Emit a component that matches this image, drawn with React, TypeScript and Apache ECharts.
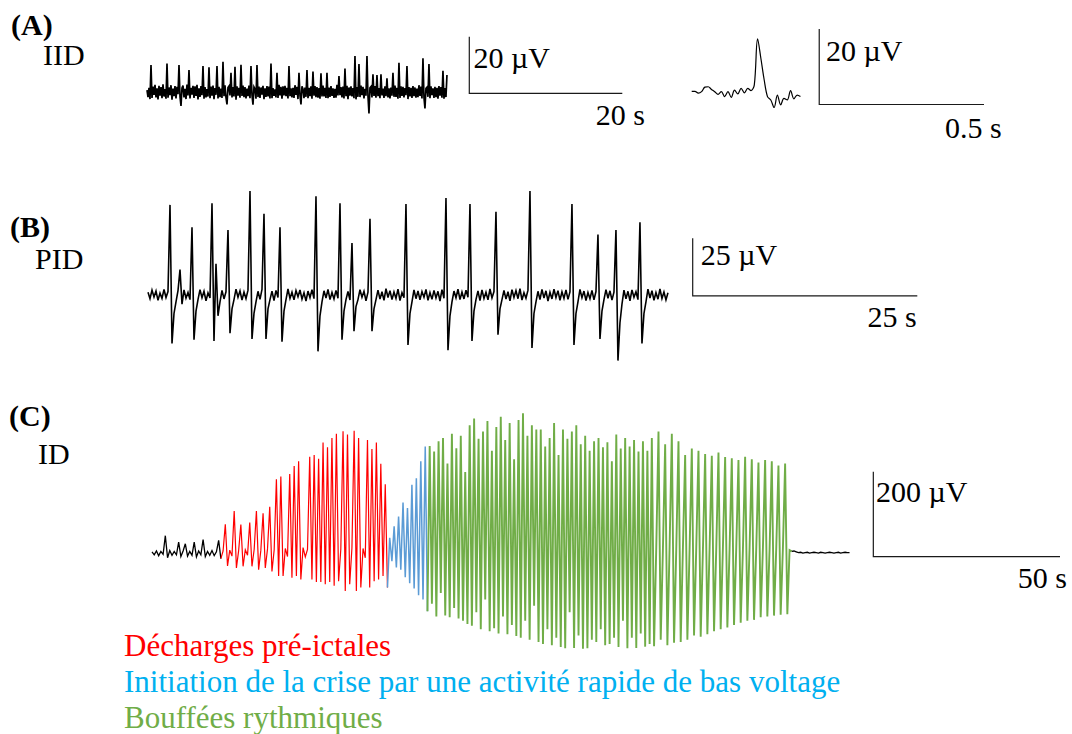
import React, { useEffect, useRef } from "react";
import * as echarts from "echarts";

// ---------- DATA ----------
// (A) IID: long trace, sampling period (s) and values (µV)
const iidDt = 0.1307;
const iidTrace = [
  0.6, -1.9, 1.4, -2.6, 9.4, -2.2, 1.8, -1.1, 2.4, -2.0, 1.2, -2.7, 2.1, -1.4, 1.6, -2.3, 2.6, -1.7, 0.9, -2.5,
  10.0, -2.1, 1.5, -1.2, 2.3, -2.8, 1.1, -1.6, 2.0, -2.4, 1.7, -0.9, 9.4, -1.8, -5.0, 1.3, 2.2, -2.0, 1.0, -2.6,
  2.5, -1.3, 7.7, -2.4, 1.4, -1.0, 2.1, -2.2, 1.9, -1.5, 2.4, -2.7, 1.2, -1.8, 2.0, -1.2, 9.1, -2.5, 1.6, -2.0,
  0.9, -1.7, 8.6, -2.3, 1.8, -1.4, 2.2, -2.6, 1.3, -1.1, 9.1, -2.4, 1.7, -1.9, 1.1, -2.2, 10.6, -1.6, 2.3, -2.1,
  -4.5, 1.5, 2.0, -1.3, 6.7, -2.0, 1.6, -1.7, 8.8, -2.8, 1.9, -1.4, 1.4, -2.1, 9.5, -1.5, 2.2, -1.9, 1.6, -2.4,
  1.1, -1.6, 2.2, -2.3, 9.1, -1.2, -4.6, 1.7, 1.0, -2.5, 9.4, -1.9, 1.8, -2.2, 1.5, -1.0, 2.1, -2.6, 1.2, -1.8,
  2.0, -1.7, 1.8, -2.4, 10.0, -2.3, 1.3, -1.5, 0.8, -2.0, 6.7, -2.2, 2.4, -1.3, 1.7, -2.5, 1.9, -1.3, 2.1, -1.6,
  1.4, -2.4, 9.1, -1.6, 1.2, -2.0, 1.4, -2.2, 2.3, -1.1, 1.7, -2.6, 6.7, -1.4, -4.5, 1.9, 1.0, -2.3, 1.5, -1.8,
  7.7, -2.3, 1.4, -1.6, 1.9, -2.5, 7.1, -1.4, 2.0, -1.9, 1.6, -2.1, 1.3, -2.5, 6.5, -1.7, 2.2, -1.7, 1.4, -2.2,
  6.7, -2.3, 1.5, -1.8, 2.0, -1.5, 1.2, -2.2, 1.0, -2.1, 2.4, -1.3, 5.5, -1.2, 1.6, -2.0, 1.8, -2.4, 8.2, -1.6,
  2.1, -2.6, 1.5, -1.4, 1.9, -1.7, 1.3, -2.3, 12.6, -2.7, 1.6, -1.8, 9.8, -1.9, 2.2, -1.2, 1.7, -2.4, 1.0, -1.4,
  12.6, -1.5, -7.7, 1.4, 1.8, -2.0, 6.2, -1.5, 2.0, -2.1, 5.9, -1.6, 1.3, -2.3, 6.2, -1.3, 1.1, -2.2, 1.9, -1.6,
  4.7, -2.0, 1.2, -2.4, 1.5, -1.4, 6.7, -1.8, 2.2, -1.8, 1.4, -2.5, 10.2, -2.2, 1.9, -1.5, 1.7, -2.0, 1.3, -1.2,
  9.1, -2.6, 1.6, -1.7, 1.4, -2.2, 2.0, -1.6, 1.5, -2.1, 1.1, -1.9, 2.3, -1.5, 1.8, -2.4, 11.8, -2.0, -5.9, 1.2,
  1.6, -1.8, 9.8, -2.3, 1.9, -1.2, 1.2, -2.2, 1.7, -1.9, 1.4, -2.5, 2.0, -1.4, 1.6, -2.1, 7.4, -2.5, 1.3, -1.9,
  5.9,
];
// (A) single IID, zoomed
const iidSpikeDt = 0.01;
const iidSpike = [
  0.1, 0.1, -0.4, 0.0, 1.2, 1.3, 0.6, 0.0, -0.7, 0.0,
  -1.3, 0.0, -1.5, 0.4, -0.6, 0.9, -0.3, 0.9, 0.3, 1.8,
  14.0, 8.8, 3.1, -1.3, -2.2, -4.2, -0.9, -3.5, -1.8, -2.2,
  0.3, -1.9, -0.9, -1.3,
];
// (B) PID
const pidDt = 0.2226;
const pidTrace = [
  1.2, -1.6, 2.1, -0.9, 1.7, -2.3, 0.8, -1.5, 2.4, -1.1,
  1.5, 39.0, -21.0, -8.0, -3.0, 1.9, 11.0, -4.0, 2.2, -1.4,
  1.1, -2.0, 29.3, -19.4, -7.0, -2.0, 2.3, -1.2, 1.6, -2.5,
  0.9, -1.3, 39.7, -19.9, 13.5, -9.0, -3.0, 2.0, -1.7, 1.4,
  28.1, -16.5, -6.0, -2.0, 2.5, -1.0, 1.8, -2.2, 1.3, -1.6,
  2.1, 45.0, -19.0, -8.0, -3.0, 1.6, -1.9, 2.4, 35.2, -19.0,
  -6.0, -2.0, 1.7, -2.4, 2.0, -1.1, 29.3, -20.2, -7.0, -2.0,
  2.6, -1.5, 1.2, -2.1, 1.9, -0.8, 2.2, -1.8, 1.0, -2.6,
  1.7, -1.2, 2.3, -1.6, 42.7, -24.4, -9.0, -3.0, 1.8, -1.3,
  2.4, -2.0, 1.1, -1.7, 2.0, -1.4, 39.7, -19.4, -7.0, -2.0,
  1.5, -2.2, 22.5, -15.7, -5.0, -2.0, 2.3, -1.0, 1.6, -2.5,
  1.2, 33.0, -15.7, -6.0, -2.0, 2.1, -1.8, 1.4, -2.3, 2.7,
  -1.1, 1.9, -2.0, 1.3, -1.5, 2.5, -2.4, 1.0, -1.2, 39.4,
  -21.6, -8.0, -3.0, 2.2, -1.6, 1.8, -2.1, 1.5, -1.0, 2.4,
  -2.3, 1.1, -1.9, 2.0, -1.3, 1.6, -2.6, 2.3, -1.4, 42.0,
  -23.9, -9.0, -3.0, 1.7, -1.2, 2.5, -2.0, 1.3, -1.7, 2.1,
  -1.0, 39.4, -19.9, -7.0, -2.0, 1.8, -2.4, 2.2, -1.5, 1.2,
  -2.1, 2.6, -1.3, 1.5, 36.0, -17.2, -6.0, -2.0, 2.0, -1.8,
  1.4, -2.5, 2.3, -1.1, 1.9, -1.6, 2.7, -2.2, 1.0, -1.4,
  2.1, 45.0, -22.9, -8.0, -3.0, 1.6, -2.0, 2.4, -1.3, 1.8,
  -2.6, 1.2, -1.7, 2.5, -1.1, 1.9, -2.3, 1.4, -1.5, 2.2,
  -1.9, 1.3, 39.4, -21.6, -8.0, -3.0, 2.4, -1.2, 1.7, -2.4,
  1.1, -1.6, 2.0, -2.1, 1.5, 26.2, -19.0, -7.0, -2.0, 2.3,
  -1.4, 1.8, -2.2, 1.2, 28.1, -28.4, -12.0, -4.0, 2.1, -1.7,
  1.6, -2.5, 2.2, -1.0, 1.4, -2.0, 31.5, -21.0, -8.0, -3.0,
  2.5, -1.3, 1.9, -2.3, 1.1, -1.8, 2.6, -1.5, 1.3, -2.1,
  1.0,
];
// (C) ID, consecutive segments sharing one sampling period
const idDt = 0.595;
const idBaselineStart = [
  2, -5, 4, -7, 3, -4, 40, -12, 5, -6, 3, -5, 25, -9, 4, 21,
  -8, 3, -6, 25, -10, 4, -5, 31, -9, 3, -6, 5, -7, 2, 29, -14,
];
const idPreictal = [
  4, 67, -31, 6, -8, 98, -36, 5, 66, -32,
  7, -6, 71, -32, 8, 98, -40, 6, 93, -36,
  9, 108, -44, 7, 173, -55, 179, -55, 10, -9,
  185, -59, 204, -55, 215, -63, 12, -10, 8, 226,
  -63, 230, -69, 221, -69, 259, -74, 248, -69, 270,
  -78, 280, -67, 9, 286, -90, 278, -74, 11, 287,
  -90, 270, -82, 10, -12, 265, -82, 244, -67, 259,
  -63, 209, -55, 161, -82,
];
const idLowVoltageFast = [
  35, -20, 62, -35, 85, -40, 118, -58, 105, -72,
  160, -84, 175, -100, 215, -110, 250, -138,
];
const idRhythmicBursts = [
  251, -120, 238, -150, 262, -95, 270, -148, 210, -152,
  280, -130, 246, -155, 275, -160, 190, -168, 300, -172,
  316, -140, 268, -180, 285, -110, 310, -185, 240, -178,
  296, -190, 320, -150, 265, -192, 305, -170, 220, -196,
  312, -200, 328, -160, 275, -205, 300, -125, 290, -210,
  290, -215, 250, -180, 270, -218, 305, -200, 230, -222,
  290, -225, 268, -140, 285, -224, 300, -195, 255, -226,
  275, -225, 240, -205, 262, -210, 270, -180, 248, -218,
  260, -215, 215, -200, 278, -222, 245, -160, 270, -225,
  250, -200, 265, -224, 238, -190, 262, -221, 240, -215,
  270, -220, 12, 285, -205, 10, 255, -218, 14,
  280, -212, 8, 262, -210, 12, 230, -205, 9,
  245, -195, 11, 240, -198, 7, 232, -192, 10,
  228, -185, 8, 236, -180, 12, 225, -176, 9,
  222, -170, 10, 218, -165, 6, 226, -160, 11,
  220, -158, 8, 212, -152, 10, 218, -150, 7,
  215, -148, 9, 205, -146, 10, 210, -145, 6,
  3,
];
const idBaselineEnd = [
  4, 2, 0, 1, -1, 0, 1, -1, 0, 1, 0, -1, 1,
  0, -1, 0, 1, 0, -1, 0, 1, -1, 0, 1, 0, 0,
];

// scale bars: amplitude (µV) and duration (s)
const barAmplitudes = [20, 20, 25, 200];
const barDurations = [20, 0.5, 25, 50];
const barAmpLabels = ["20 \u00b5V", "20 \u00b5V", "25 \u00b5V", "200 \u00b5V"];
const barDurLabels = ["20 s", "0.5 s", "25 s", "50 s"];

const panelLetters = ["(A)", "(B)", "(C)"];
const panelNames = ["IID", "PID", "ID"];
const legendLabels = [
  "D\u00e9charges pr\u00e9-ictales",
  "Initiation de la crise par une activit\u00e9 rapide de bas voltage",
  "Bouff\u00e9es rythmiques",
];

// ---------- LAYOUT ----------
const grids = [
  { left: 147, top: 32.3, width: 475.3, height: 87.7, xMax: 62.13, yMin: -10, yMax: 21, barT: 42.13, barBase: -0.6 },
  { left: 691.7, top: 23.8, width: 292.3, height: 90.5, xMax: 0.887, yMin: -6, yMax: 18, barT: 0.387, barBase: -3.4 },
  { left: 148, top: 184.1, width: 769.3, height: 180.2, xMax: 85.63, yMin: -30, yMax: 48, barT: 60.63, barBase: -0.4 },
  { left: 152, top: 403.95, width: 908, height: 259.25, xMax: 243.2, yMin: -260, yMax: 350, barT: 193.2, barBase: -9.4 },
];
const traceWidths = [1.7, 1.2, 1.6];
const ampLabelPos = [[473.5, 57.8], [826, 50], [700.7, 254], [876, 491.7]];
const durLabelPos = [[645, 114.5], [1001.7, 127.5], [916.7, 316], [1067, 577.5]];
const letterPos = [[11, 24], [10, 226.7], [9, 415]];
const namePos = [[43, 54.3], [35, 258.3], [38, 453]];
const legendPos = [[124, 645], [124, 681.5], [124, 717.5]];
const legendColors = ["#FF0000", "#00B0F0", "#70AD47"];
const segColors = ["#000000", "#FF0000", "#5B9BD5", "#70AD47", "#000000"];
const segWidths = [1.3, 1.2, 1.5, 1.9, 1.3];

const SERIF = '"Liberation Serif", "Times New Roman", serif';

function lineSeries(gridIndex: number, data: number[][], color: string, width: number, smooth: any = false) {
  return {
    type: "line",
    xAxisIndex: gridIndex,
    yAxisIndex: gridIndex,
    data,
    symbol: "none",
    showSymbol: false,
    smooth,
    silent: true,
    clip: false,
    lineStyle: { color, width, join: "miter", miterLimit: 4 },
    emphasis: { disabled: true },
  };
}

function txt(text: string, x: number, y: number, font: string, fill: string, align = "left") {
  return {
    type: "text",
    x,
    y,
    silent: true,
    style: {
      text,
      font,
      fill,
      align,
      textAlign: align,
      verticalAlign: "middle",
      textVerticalAlign: "middle",
    },
  };
}

export default function App() {
  const ref = useRef<HTMLDivElement>(null);

  useEffect(() => {
    document.body.style.margin = "0";
    if (!ref.current) return;
    const chart = echarts.init(ref.current, undefined, { renderer: "svg" });

    const series: any[] = [];
    series.push(lineSeries(0, iidTrace.map((v, i) => [i * iidDt, v]), "#000000", traceWidths[0]));
    series.push(lineSeries(1, iidSpike.map((v, i) => [i * iidSpikeDt, v]), "#000000", traceWidths[1], 0.35));
    series.push(lineSeries(2, pidTrace.map((v, i) => [i * pidDt, v]), "#000000", traceWidths[2]));

    const segs = [idBaselineStart, idPreictal, idLowVoltageFast, idRhythmicBursts, idBaselineEnd];
    let offset = 0;
    let prev: number[] | null = null;
    segs.forEach((vals, s) => {
      const pts = vals.map((v, i) => [(offset + i) * idDt, v]);
      if (prev) pts.unshift(prev);
      prev = pts[pts.length - 1];
      offset += vals.length;
      series.push(lineSeries(3, pts, segColors[s], segWidths[s]));
    });

    grids.forEach((g, k) => {
      const base = g.barBase;
      series.push(
        lineSeries(
          k,
          [
            [g.barT, base + barAmplitudes[k]],
            [g.barT, base],
            [g.barT + barDurations[k], base],
          ],
          "#1a1a1a",
          1.2
        )
      );
    });

    const graphic: any[] = [];
    const fBold = `bold 30px ${SERIF}`;
    const f30 = `30px ${SERIF}`;
    const f31 = `31px ${SERIF}`;
    panelLetters.forEach((t, i) => graphic.push(txt(t, letterPos[i][0], letterPos[i][1], fBold, "#000")));
    panelNames.forEach((t, i) => graphic.push(txt(t, namePos[i][0], namePos[i][1], f30, "#000")));
    barAmpLabels.forEach((t, i) => graphic.push(txt(t, ampLabelPos[i][0], ampLabelPos[i][1], f30, "#000")));
    barDurLabels.forEach((t, i) => graphic.push(txt(t, durLabelPos[i][0], durLabelPos[i][1], f30, "#000", "right")));
    legendLabels.forEach((t, i) =>
      graphic.push(txt(t, legendPos[i][0], legendPos[i][1], f31, legendColors[i]))
    );

    chart.setOption({
      animation: false,
      backgroundColor: "#ffffff",
      grid: grids.map((g) => ({ left: g.left, top: g.top, width: g.width, height: g.height, containLabel: false })),
      xAxis: grids.map((g, k) => ({ type: "value", gridIndex: k, min: 0, max: g.xMax, show: false })),
      yAxis: grids.map((g, k) => ({ type: "value", gridIndex: k, min: g.yMin, max: g.yMax, show: false })),
      series,
      graphic,
    });

    return () => chart.dispose();
  }, []);

  return <div ref={ref} style={{ width: 1072, height: 734 }} />;
}
